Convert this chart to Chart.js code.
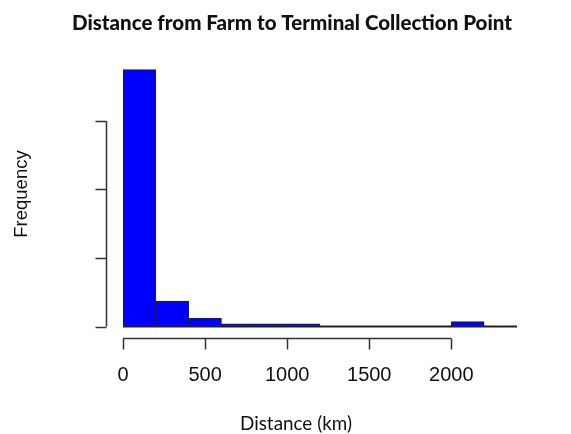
<!DOCTYPE html>
<html>
<head>
<meta charset="utf-8">
<script src="https://cdn.jsdelivr.net/npm/chart.js@4/dist/chart.umd.min.js"></script>
<style>
  html, body { margin: 0; padding: 0; background: #fff; }
  #wrap { width: 571px; height: 434px; }
</style>
</head>
<body>
<div id="wrap"><canvas id="chartHist" width="571" height="434"></canvas></div>
<script>
// histogram bins (km) and counts
const binEdges = [0, 200, 400, 600, 800, 1000, 1200, 1400, 1600, 1800, 2000, 2200, 2400];
const counts   = [375, 37, 12, 4, 4, 4, 0, 0, 0, 0, 7, 0];
const xTicks = [0, 500, 1000, 1500, 2000];
const yTicks = [0, 100, 200, 300];

const titleText = 'Distance from Farm to Terminal Collection Point';
const xTitle = 'Distance (km)';
const yTitle = 'Frequency';

let chartHist;

// fit a font size so the text spans the wanted width
const fitFont = (ctx, text, weight, family, width) => {
    ctx.font = weight + ' 20px ' + family;
    const w = ctx.measureText(text).width;
    return weight + ' ' + (20 * width / w).toFixed(2) + 'px ' + family;
};

const rAxes = {
    id: 'rAxes',
    beforeDatasetsDraw(chart) {
        const ctx = chart.ctx;
        const x = chart.scales.x, y = chart.scales.y;
        // zero-count bins show as a line on the base
        ctx.save();
        ctx.strokeStyle = '#222';
        ctx.lineWidth = 2;
        ctx.beginPath();
        ctx.moveTo(x.getPixelForValue(binEdges[0]), y.getPixelForValue(0));
        ctx.lineTo(x.getPixelForValue(binEdges[binEdges.length - 1]), y.getPixelForValue(0));
        ctx.stroke();
        ctx.restore();
    },
    afterDraw(chart) {
        const ctx = chart.ctx;
        const x = chart.scales.x, y = chart.scales.y;
        ctx.save();
        ctx.strokeStyle = '#333';
        ctx.lineWidth = 1.5;
        ctx.fillStyle = '#111';

        // x axis, R style, below the plot
        const ax = 338.5;
        ctx.beginPath();
        ctx.moveTo(x.getPixelForValue(xTicks[0]), ax);
        ctx.lineTo(x.getPixelForValue(xTicks[xTicks.length - 1]), ax);
        xTicks.forEach(t => {
            const px = Math.round(x.getPixelForValue(t)) + 0.5;
            ctx.moveTo(px, ax);
            ctx.lineTo(px, ax + 11);
        });
        ctx.stroke();
        ctx.font = '20px "Liberation Sans", Arial, sans-serif';
        ctx.textAlign = 'center';
        ctx.textBaseline = 'middle';
        xTicks.forEach(t => ctx.fillText(String(t), x.getPixelForValue(t), 375));

        // y axis, no labels
        const ay = 106.5;
        ctx.beginPath();
        ctx.moveTo(ay, y.getPixelForValue(yTicks[0]));
        ctx.lineTo(ay, y.getPixelForValue(yTicks[yTicks.length - 1]));
        yTicks.forEach(t => {
            const py = Math.round(y.getPixelForValue(t)) + 0.5;
            ctx.moveTo(ay, py);
            ctx.lineTo(ay - 11, py);
        });
        ctx.stroke();

        // titles
        ctx.font = fitFont(ctx, titleText, '900', 'Lato, "Open Sans", sans-serif', 440);
        ctx.fillText(titleText, 292, 23);
        ctx.font = fitFont(ctx, xTitle, 'normal', 'Lato, "Open Sans", sans-serif', 112);
        ctx.fillText(xTitle, 296, 424);
        ctx.translate(22, 194);
        ctx.rotate(-Math.PI / 2);
        ctx.font = '18.5px "Liberation Sans", Arial, sans-serif';
        ctx.fillText(yTitle, 0, 0);
        ctx.restore();
    }
};

const initChartHist = () => {
    const ctx = document.getElementById('chartHist').getContext('2d');
    const points = counts.map((c, i) => ({ x: (binEdges[i] + binEdges[i + 1]) / 2, y: c }));
    chartHist = new Chart(ctx, {
        type: 'bar',
        data: {
            datasets: [{
                data: points,
                backgroundColor: '#0000ff',
                borderColor: '#222',
                borderWidth: 1,
                borderSkipped: false,
                barPercentage: 1,
                categoryPercentage: 1
            }]
        },
        options: {
            responsive: false,
            animation: false,
            devicePixelRatio: 1,
            layout: { padding: { left: 123, right: 54, top: 60, bottom: 107.5 } },
            plugins: { legend: { display: false }, title: { display: false }, tooltip: { enabled: false } },
            scales: {
                x: { type: 'linear', min: 0, max: 2400, display: false, offset: false },
                y: { min: 0, max: 389, display: false }
            }
        },
        plugins: [rAxes]
    });
};

initChartHist();
</script>
</body>
</html>
